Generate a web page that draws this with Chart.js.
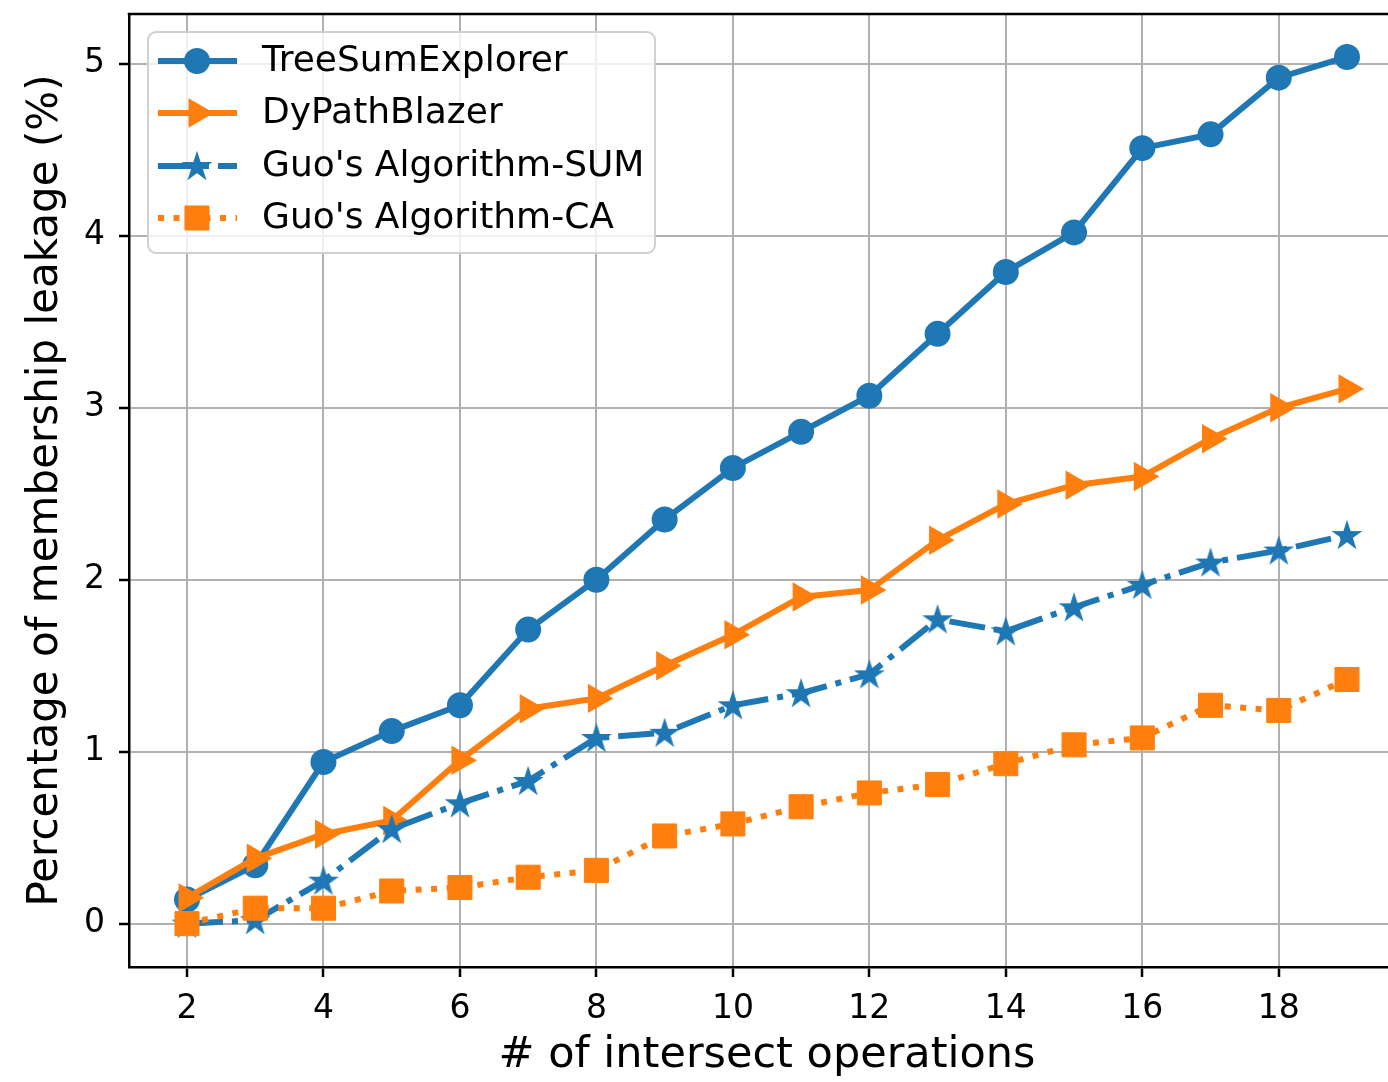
<!DOCTYPE html>
<html>
<head>
<meta charset="utf-8">
<script src="https://cdn.jsdelivr.net/npm/chart.js@4.4.1/dist/chart.umd.min.js"></script>
<style>
  html, body { margin: 0; padding: 0; background: #fff; overflow: hidden; }
  #wrap { width: 1388px; height: 1082px; overflow: hidden; }
</style>
</head>
<body>
<div id="wrap"><canvas id="lineChart" width="1420" height="1082"></canvas></div>
<script>
const operations = [2, 3, 4, 5, 6, 7, 8, 9, 10, 11, 12, 13, 14, 15, 16, 17, 18, 19];
const treeSumExplorer = [0.14, 0.34, 0.94, 1.12, 1.27, 1.71, 2.00, 2.35, 2.65, 2.86, 3.07, 3.43, 3.79, 4.02, 4.51, 4.59, 4.92, 5.04];
const dyPathBlazer = [0.15, 0.38, 0.52, 0.60, 0.95, 1.25, 1.31, 1.50, 1.68, 1.90, 1.94, 2.23, 2.44, 2.55, 2.60, 2.82, 3.00, 3.11];
const guoSum = [0.00, 0.02, 0.25, 0.55, 0.70, 0.83, 1.08, 1.11, 1.27, 1.34, 1.45, 1.77, 1.70, 1.84, 1.97, 2.10, 2.17, 2.26];
const guoCa = [0.00, 0.09, 0.09, 0.19, 0.21, 0.27, 0.31, 0.51, 0.58, 0.68, 0.76, 0.81, 0.93, 1.04, 1.08, 1.27, 1.24, 1.42];
const xTicks = [2, 4, 6, 8, 10, 12, 14, 16, 18];
const yTicks = [0, 1, 2, 3, 4, 5];

const BLUE = "#1f77b4";
const ORANGE = "#ff7f0e";

Chart.defaults.font.family = "'DejaVu Sans', sans-serif";
Chart.defaults.color = "#000";

// filled 5-point star like matplotlib's '*'
function makeStar(color) {
    const c = document.createElement("canvas");
    c.width = 32; c.height = 32;
    const g = c.getContext("2d");
    const R = 13, r = 13 * 0.382;
    g.beginPath();
    for (let i = 0; i < 10; i++) {
        const a = -Math.PI / 2 + i * Math.PI / 5;
        const rad = i % 2 === 0 ? R : r;
        g.lineTo(16 + rad * Math.cos(a), 17 + rad * Math.sin(a));
    }
    g.closePath();
    g.fillStyle = color;
    g.fill();
    g.lineWidth = 2;
    g.strokeStyle = color;
    g.stroke();
    return c;
}
const starImg = makeStar(BLUE);

const pts = (ys) => operations.map((x, i) => ({ x: x, y: ys[i] }));

// matplotlib-like legend inside the plot
const legendPlugin = {
    id: "mplLegend",
    afterDatasetsDraw(chart) {
        const ctx = chart.ctx;
        const x0 = 148, y0 = 32, w = 507, h = 221;
        ctx.save();
        ctx.beginPath();
        ctx.roundRect(x0, y0, w, h, 8);
        ctx.fillStyle = "rgba(255,255,255,0.8)";
        ctx.fill();
        ctx.lineWidth = 2;
        ctx.strokeStyle = "#d0d0d0";
        ctx.stroke();
        const rows = [61, 113, 166, 218];
        chart.data.datasets.forEach((ds, i) => {
            const y = rows[i];
            ctx.beginPath();
            ctx.setLineDash(ds.borderDash || []);
            ctx.lineDashOffset = 0;
            ctx.lineWidth = ds.borderWidth;
            ctx.strokeStyle = ds.borderColor;
            ctx.moveTo(158, y);
            ctx.lineTo(237, y);
            ctx.stroke();
            ctx.setLineDash([]);
            ctx.fillStyle = ds.borderColor;
            ctx.strokeStyle = ds.borderColor;
            ctx.lineWidth = ds.pointBorderWidth;
            Chart.helpers.drawPoint(ctx, {
                pointStyle: ds.pointStyle,
                radius: ds.pointRadius,
                rotation: ds.pointRotation || 0,
                borderWidth: ds.pointBorderWidth
            }, 197, y);
            ctx.fillStyle = "#000";
            ctx.font = "36px 'DejaVu Sans'";
            ctx.textBaseline = "middle";
            ctx.textAlign = "left";
            ctx.fillText(ds.label, 262, y + 1);
        });
        ctx.restore();
    },
    afterDraw(chart) {
        const a = chart.chartArea;
        const ctx = chart.ctx;
        ctx.save();
        ctx.strokeStyle = "#000";
        ctx.lineWidth = 2.5;
        ctx.beginPath();
        ctx.moveTo(a.left - 1.25, a.top);
        ctx.lineTo(a.right, a.top);
        ctx.lineTo(a.right, a.bottom);
        ctx.stroke();
        ctx.restore();
    }
};

new Chart(document.getElementById("lineChart"), {
    type: "line",
    data: {
        datasets: [
            {
                label: "TreeSumExplorer",
                data: pts(treeSumExplorer),
                borderColor: BLUE, backgroundColor: BLUE,
                borderWidth: 6,
                pointStyle: "circle", pointRadius: 12, pointBorderWidth: 2,
                order: 4
            },
            {
                label: "DyPathBlazer",
                data: pts(dyPathBlazer),
                borderColor: ORANGE, backgroundColor: ORANGE,
                borderWidth: 6,
                pointStyle: "triangle", pointRotation: 90, pointRadius: 15, pointBorderWidth: 2,
                order: 3
            },
            {
                label: "Guo's Algorithm-SUM",
                data: pts(guoSum),
                borderColor: BLUE, backgroundColor: BLUE,
                borderWidth: 6, borderDash: [36, 9, 6, 9],
                pointStyle: starImg, pointRadius: 14, pointBorderWidth: 0,
                order: 2
            },
            {
                label: "Guo's Algorithm-CA",
                data: pts(guoCa),
                borderColor: ORANGE, backgroundColor: ORANGE,
                borderWidth: 6, borderDash: [6, 9.5],
                pointStyle: "rect", pointRadius: 17, pointBorderWidth: 1,
                order: 1
            }
        ]
    },
    options: {
        responsive: false,
        animation: false,
        layout: { autoPadding: false, padding: { top: 14, right: 15, bottom: 0, left: 0 } },
        plugins: {
            legend: { display: false },
            tooltip: { enabled: false }
        },
        elements: { line: { tension: 0, borderCapStyle: "butt" } },
        scales: {
            x: {
                type: "linear",
                min: 1.15, max: 19.85,
                afterBuildTicks: (s) => { s.ticks = xTicks.map(v => ({ value: v })); },
                afterFit: (s) => { s.height = 115; s.paddingLeft = 0; s.paddingRight = 0; },
                grid: { color: "#b0b0b0", lineWidth: 2, tickColor: "#000", tickLength: 10, tickWidth: 2.5 },
                border: { color: "#000", width: 2.5 },
                ticks: { font: { size: 33 }, padding: 13, color: "#000", maxRotation: 0 },
                title: { display: true, text: "# of intersect operations", font: { size: 43 }, padding: { top: 0, bottom: 0 } }
            },
            y: {
                type: "linear",
                min: -0.252, max: 5.29,
                afterBuildTicks: (s) => { s.ticks = yTicks.map(v => ({ value: v })); },
                afterFit: (s) => { s.width = 129; s.paddingTop = 0; s.paddingBottom = 0; },
                grid: { color: "#b0b0b0", lineWidth: 2, tickColor: "#000", tickLength: 10, tickWidth: 2.5 },
                border: { color: "#000", width: 2.5 },
                ticks: { font: { size: 33 }, padding: 14, color: "#000" },
                title: { display: true, text: "Percentage of membership leakage (%)", font: { size: 42 }, padding: { top: 21, bottom: 0 } }
            }
        }
    },
    plugins: [legendPlugin]
});
</script>
</body>
</html>
